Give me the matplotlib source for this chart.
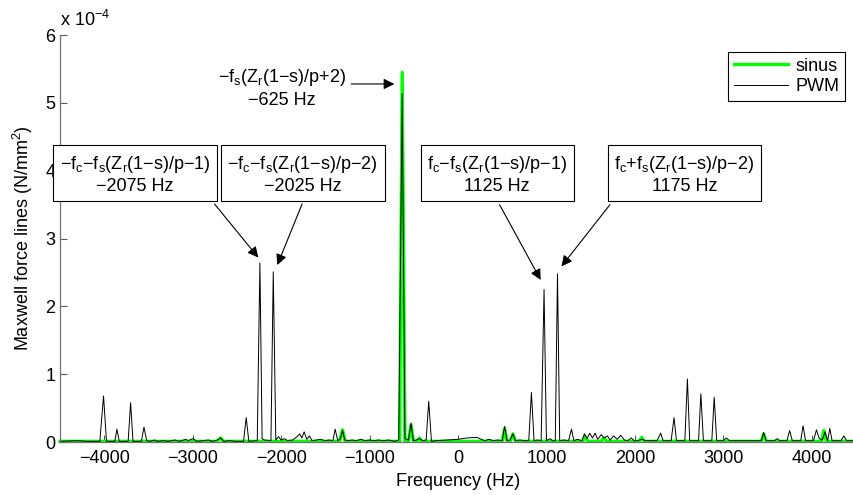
import matplotlib.pyplot as plt

plt.rcParams['font.family'] = ['Liberation Sans', 'DejaVu Sans']
plt.rcParams['mathtext.default'] = 'regular'

# spectrum values, in units of 1e-4 N/mm^2
pwm_f = [-4500, -4300, -4200, -4050, -4008, -3975, -3880, -3857, -3830, -3730,
         -3702, -3675, -3580, -3551, -3520, -3480, -3430, -3400, -3330, -3280,
         -3200, -3150, -3080, -3050, -3000, -2950, -2880, -2820, -2780, -2720,
         -2685, -2650, -2580, -2520, -2425, -2395, -2365, -2270, -2240, -2215,
         -2190, -2115, -2089, -2060, -2030, -2000, -1960, -1930, -1870, -1820,
         -1790, -1765, -1740, -1710, -1680, -1650, -1600, -1560, -1500, -1460,
         -1415, -1389, -1360, -1330, -1306, -1280, -1240, -1200, -1150, -1100,
         -1050, -1000, -950, -900, -850, -780, -720, -670, -631, -600,
         -560, -531, -505, -470, -436, -400, -360, -331, -300, -250,
         0, 100, 210, 280, 300, 350, 400, 450, 500, 527,
         555, 590, 621, 650, 700, 750, 800, 830, 860, 900,
         940, 973, 1000, 1040, 1070, 1100, 1125, 1150, 1200, 1250,
         1283, 1310, 1350, 1400, 1430, 1460, 1490, 1520, 1550, 1580,
         1620, 1650, 1690, 1720, 1760, 1800, 1840, 1880, 1920, 1960,
         1990, 2030, 2080, 2120, 2180, 2250, 2292, 2320, 2410, 2443,
         2470, 2565, 2594, 2620, 2720, 2746, 2775, 2870, 2897, 2925,
         3000, 3033, 3070, 3200, 3300, 3430, 3456, 3485, 3580, 3608,
         3640, 3720, 3750, 3780, 3875, 3902, 3930, 4020, 4053, 4085,
         4120, 4150, 4180, 4204, 4230, 4330, 4363, 4395, 4500]
pwm_a = [0.01, 0.02, 0.01, 0.01, 0.68, 0.01, 0.01, 0.19, 0.01, 0.01,
         0.58, 0.01, 0.01, 0.22, 0.02, 0.01, 0.03, 0.01, 0.02, 0.01,
         0.03, 0.01, 0.04, 0.02, 0.05, 0.01, 0.02, 0.03, 0.01, 0.03,
         0.06, 0.01, 0.02, 0.01, 0.01, 0.36, 0.01, 0.02, 2.64, 0.05,
         0.03, 0.02, 2.51, 0.03, 0.08, 0.03, 0.05, 0.02, 0.03, 0.08,
         0.12, 0.06, 0.15, 0.04, 0.09, 0.02, 0.03, 0.04, 0.02, 0.03,
         0.02, 0.19, 0.02, 0.05, 0.17, 0.03, 0.02, 0.03, 0.02, 0.04,
         0.02, 0.03, 0.02, 0.03, 0.02, 0.03, 0.01, 0.03, 5.14, 0.05,
         0.03, 0.28, 0.02, 0.03, 0.05, 0.02, 0.03, 0.60, 0.01, 0.02,
         0.04, 0.06, 0.07, 0.03, 0.02, 0.04, 0.02, 0.03, 0.02, 0.23,
         0.02, 0.03, 0.12, 0.02, 0.03, 0.02, 0.02, 0.73, 0.02, 0.03,
         0.02, 2.25, 0.02, 0.05, 0.02, 0.02, 2.48, 0.02, 0.03, 0.02,
         0.19, 0.02, 0.04, 0.02, 0.12, 0.05, 0.13, 0.06, 0.13, 0.04,
         0.11, 0.06, 0.09, 0.03, 0.09, 0.04, 0.10, 0.03, 0.02, 0.06,
         0.02, 0.02, 0.04, 0.02, 0.02, 0.02, 0.13, 0.02, 0.02, 0.36,
         0.02, 0.02, 0.93, 0.02, 0.02, 0.71, 0.02, 0.02, 0.66, 0.02,
         0.02, 0.06, 0.02, 0.02, 0.02, 0.02, 0.14, 0.02, 0.02, 0.05,
         0.02, 0.02, 0.17, 0.02, 0.02, 0.24, 0.02, 0.02, 0.18, 0.05,
         0.03, 0.15, 0.02, 0.20, 0.02, 0.02, 0.09, 0.02, 0.02]

sin_f = [-4500, -2720, -2685, -2650, -1340, -1306, -1275, -660, -631, -600,
         -560, -531, -505, -460, -436, -410, 500, 527, 555, 590,
         621, 650, 1410, 1440, 1470, 1620, 1650, 1680, 2050, 2077,
         2105, 3430, 3456, 3485, 4110, 4136, 4165, 4500]
sin_a = [0.01, 0.01, 0.06, 0.01, 0.01, 0.18, 0.01, 0.01, 5.45, 0.01,
         0.01, 0.25, 0.01, 0.01, 0.06, 0.01, 0.01, 0.20, 0.01, 0.01,
         0.12, 0.01, 0.01, 0.08, 0.01, 0.01, 0.06, 0.01, 0.01, 0.07,
         0.01, 0.01, 0.12, 0.01, 0.01, 0.17, 0.01, 0.01]

FS = 13

fig = plt.figure(figsize=(8.54, 4.95), dpi=100)
ax = fig.add_axes([0.0703, 0.107, 0.932, 0.822])

ax.plot(sin_f, sin_a, color='#00ff00', lw=2.4, label='sinus', clip_on=False)
ax.plot(pwm_f, pwm_a, color='black', lw=0.7, label='PWM', clip_on=False)

ax.set_xlim(-4500, 4500)
ax.set_ylim(0, 6)
ax.set_xticks([-4000, -3000, -2000, -1000, 0, 1000, 2000, 3000, 4000])
ax.set_yticks([0, 1, 2, 3, 4, 5, 6])
ax.tick_params(direction='in', length=5, width=0.8, color='0.35', labelsize=FS)
ax.tick_params(axis='x', pad=6)
ax.spines['top'].set_visible(False)
ax.spines['right'].set_visible(False)
for s in ['left', 'bottom']:
    ax.spines[s].set_color('0.45')
    ax.spines[s].set_linewidth(0.9)

ax.set_xlabel('Frequency (Hz)', fontsize=FS, labelpad=4)
ax.set_ylabel('Maxwell force lines (N/mm$^2$)', fontsize=FS, labelpad=7)
ax.text(0.0, 1.012, 'x 10$^{\u22124}$', transform=ax.transAxes, fontsize=FS,
        ha='left', va='bottom')

leg = ax.legend(loc='upper right', bbox_to_anchor=(0.997, 0.98), fontsize=FS,
                fancybox=False, edgecolor='black', framealpha=1,
                handlelength=3.0, borderpad=0.3, labelspacing=0.2,
                handletextpad=0.4)
leg.get_frame().set_linewidth(0.8)

box = dict(boxstyle='square,pad=0.35', fc='white', ec='black', lw=0.8)
arrow = dict(arrowstyle='-|>', color='black', lw=0.8, mutation_scale=16,
             shrinkA=0, shrinkB=0)

labels = [
    ('\u2212f$_c$\u2212f$_s$(Z$_r$(1\u2212s)/p\u22121)\n\u22122075 Hz', -3650, (-2753, 3.51), (-2258, 2.72)),
    ('\u2212f$_c$\u2212f$_s$(Z$_r$(1\u2212s)/p\u22122)\n\u22122025 Hz', -1754, (-1763, 3.51), (-2043, 2.61)),
    ('f$_c$\u2212f$_s$(Z$_r$(1\u2212s)/p\u22121)\n1125 Hz', 442, (470, 3.50), (935, 2.39)),
    ('f$_c$+f$_s$(Z$_r$(1\u2212s)/p\u22122)\n1175 Hz', 2562, (1718, 3.50), (1170, 2.59)),
]
for txt, xc, start, tip in labels:
    ax.text(xc, 3.95, txt, ha='center', va='center', multialignment='center',
            fontsize=FS, bbox=box, zorder=5, linespacing=1.25)
    ax.annotate('', xy=tip, xytext=start, arrowprops=arrow, zorder=6)

ax.text(-1990, 5.22, '\u2212f$_s$(Z$_r$(1\u2212s)/p+2)\n\u2212625 Hz', ha='center',
        va='center', multialignment='center', fontsize=FS, linespacing=1.25)
ax.annotate('', xy=(-720, 5.28), xytext=(-1207, 5.28), arrowprops=arrow)

fig.savefig('out.png', dpi=100)
